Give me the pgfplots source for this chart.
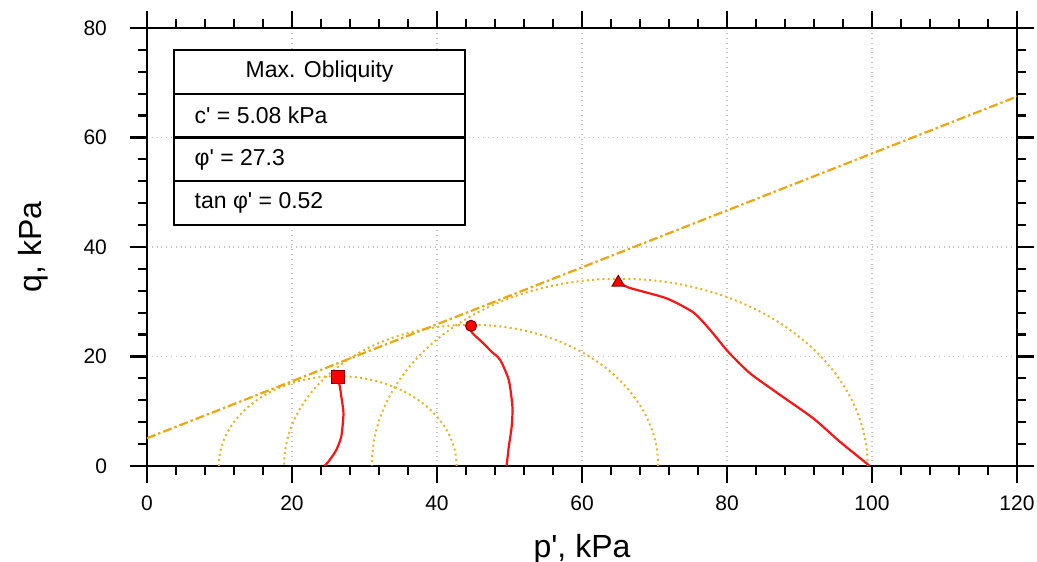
\documentclass[border=0pt]{standalone}
\usepackage{pgfplots}
\pgfplotsset{compat=1.18}
\usepackage{fontspec}
\setmainfont{Liberation Sans}[Ligatures=TeXOff]
\usetikzlibrary{calc}
\definecolor{envline}{RGB}{240,165,10}
\definecolor{circcol}{RGB}{235,180,30}
\definecolor{pathred}{RGB}{250,20,20}
\definecolor{gridgray}{RGB}{195,195,195}
\begin{document}
\begin{tikzpicture}
\begin{axis}[
  scale only axis,
  width=435pt, height=219pt,
  xmin=0, xmax=120, ymin=0, ymax=80,
  xtick={0,20,...,120}, ytick={0,20,...,80},
  minor xtick={4,8,...,116}, minor ytick={4,8,...,76},
  tick align=outside,
  major tick length=8.5pt, minor tick length=4.5pt,
  every major tick/.style={black, line width=1.2pt},
  every minor tick/.style={black, line width=1.1pt},
  axis line style={line width=1.3pt},
  xmajorgrids, ymajorgrids,
  major grid style={gridgray, dotted, line width=0.6pt},
  /pgf/number format/assume math mode=true,
  ticklabel style={font=\fontsize{10.5}{12}\selectfont},
  xticklabel style={yshift=-3pt},
  yticklabel style={xshift=-8pt},
  xlabel={p', kPa}, ylabel={q, kPa},
  label style={font=\fontsize{16}{18}\selectfont},
  xlabel style={yshift=-5pt},
  ylabel style={yshift=11pt},
  clip=true,
]
% Mohr circles (p-q space): centre on p axis, radius q
\draw[circcol, line width=1pt, dash pattern=on 1pt off 1.6pt] (axis cs:26.3,0) ellipse [x radius=16.4, y radius=16.4];
\draw[circcol, line width=1pt, dash pattern=on 1pt off 1.6pt] (axis cs:44.7,0) ellipse [x radius=25.8, y radius=25.8];
\draw[circcol, line width=1pt, dash pattern=on 1pt off 1.6pt] (axis cs:65.2,0) ellipse [x radius=34.2, y radius=34.2];
% failure envelope
\addplot[envline, line width=1.1pt, dash pattern=on 4.5pt off 1.5pt on 1.2pt off 1.5pt] coordinates {(0,5.08) (120,67.48)};
% stress paths
\addplot[pathred, line width=1.1pt, smooth, tension=0.4] coordinates {
(24.5,0) (25.2,1.1) (26.1,2.9) (26.8,5.4) (27.1,9.6) (26.8,12.7) (26.6,14.5) (26.3,16.2)};
\addplot[pathred, line width=1.1pt, smooth, tension=0.4] coordinates {
(49.6,0) (49.9,3.5) (50.3,7.2) (50.4,10.8) (49.9,15.7) (48.7,19.4) (47.5,20.9) (46.4,22.4) (44.8,24.4) (44.7,25.5)};
\addplot[pathred, line width=1.1pt, smooth, tension=0.4] coordinates {
(99.7,0) (95.6,4.4) (91.9,8.7) (87.3,13.0) (83.2,16.9) (80.2,20.8) (77.7,24.8) (75.4,28.0) (71.7,30.6) (66.4,32.6) (65.0,33.7)};
% failure markers
\addplot[only marks, mark=square*, mark size=3.2pt, mark options={fill=red, draw=red!50!black, line width=0.5pt}] coordinates {(26.3,16.3)};
\addplot[only marks, mark=*, mark size=2.8pt, mark options={fill=red, draw=red!50!black, line width=0.5pt}] coordinates {(44.7,25.6)};
\addplot[only marks, mark=triangle*, mark size=3.6pt, mark options={fill=red, draw=red!50!black, line width=0.5pt}] coordinates {(65.0,33.5)};
% parameter table
\fill[white] (axis cs:3.77,44) rectangle (axis cs:43.9,76);
\draw[black, line width=1.1pt] (axis cs:3.77,44) rectangle (axis cs:43.9,76);
\draw[black, line width=1.1pt] (axis cs:3.77,68) -- (axis cs:43.9,68);
\draw[black, line width=1.1pt] (axis cs:3.77,60) -- (axis cs:43.9,60);
\draw[black, line width=1.1pt] (axis cs:3.77,52) -- (axis cs:43.9,52);
\node[font=\fontsize{11.5}{13}\selectfont] at (axis cs:23.8,72) {Max. Obliquity};
\node[font=\fontsize{11.5}{13}\selectfont, anchor=west] at (axis cs:5.6,64) {c' = 5.08 kPa};
\node[font=\fontsize{11.5}{13}\selectfont, anchor=west] at (axis cs:5.6,56) {φ' = 27.3};
\node[font=\fontsize{11.5}{13}\selectfont, anchor=west] at (axis cs:5.6,48) {tan φ' = 0.52};
\end{axis}
\pgfresetboundingbox
\path ($(current axis.south west)+(-73.5pt,-48pt)$) rectangle ($(current axis.north east)+(10pt,14pt)$);
\end{tikzpicture}
\end{document}
